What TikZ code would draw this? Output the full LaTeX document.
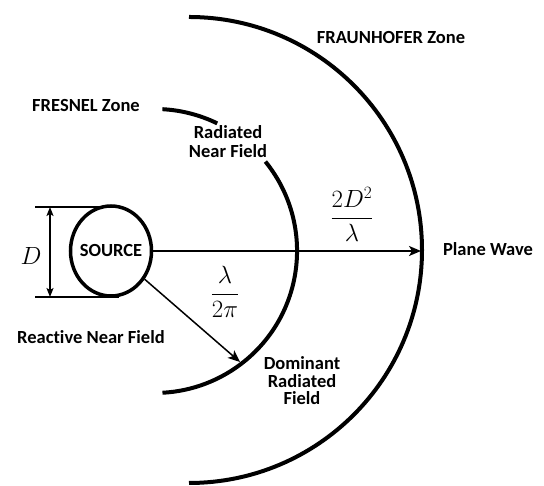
\documentclass[tikz,border=0pt]{standalone}
\usepackage[no-math]{fontspec}
\setmainfont{Carlito}[Ligatures={NoCommon}]
\usetikzlibrary{shapes.geometric,arrows.meta}
\begin{document}
\begin{tikzpicture}[x=1pt,y=1pt,
  lbl/.style={font=\fontsize{18.5}{19}\selectfont\bfseries, align=center, inner sep=0pt},
  mth/.style={font=\fontsize{25}{28}\selectfont, inner sep=0pt},
  arcline/.style={line width=4pt},
  arr/.style={line width=1.5pt, -{Stealth[length=12pt,width=10pt,inset=3pt]}},
  dim/.style={line width=1.3pt},
  dimarr/.style={line width=1.4pt, {Stealth[length=9pt,width=7pt,inset=2pt]}-{Stealth[length=9pt,width=7pt,inset=2pt]}}]
\useasboundingbox (0,0) rectangle (544,486);
% source
\node[ellipse, draw, line width=3.5pt, minimum width=81pt, minimum height=90pt, inner xsep=-6pt, inner ysep=0pt,
      font=\fontsize{18.5}{19}\selectfont\bfseries] (src) at (111,235) {SOURCE};
% outer semicircle (Fraunhofer boundary)
\draw[arcline] (189,469) arc[start angle=90, end angle=-90, radius=233];
\coordinate (outer) at (421,235);
% inner arc (Fresnel boundary), broken behind its label
\draw[arcline] (162.4,376.8) arc[start angle=87, end angle=64, radius=142];
\draw[arcline] (265.4,324.4) arc[start angle=39, end angle=-87, radius=142];
\coordinate (inner) at (240,124);
% arrows
\draw[arr] (src.east) -- (outer);
\draw[arr] (src.-40) -- (inner);
% dimension D
\coordinate (dt0) at (35,279);
\coordinate (dt1) at (119,279);
\coordinate (db0) at (35,189);
\coordinate (db1) at (119,189);
\coordinate (da) at (50,279);
\coordinate (dbb) at (50,189);
\draw[dim] (dt0) -- (dt1);
\draw[dim] (db0) -- (db1);
\draw[dimarr] (da) -- (dbb);
\node[mth] (dlab) at (31,230) {$D$};
% formulas
\node[mth] (f1) at (225,194) {$\displaystyle\frac{\lambda}{2\pi}$};
\node[mth] (f2) at (352,272) {$\displaystyle\frac{2D^2}{\lambda}$};
% labels
\node[lbl] (fraun) at (391,448) {FRAUNHOFER Zone};
\node[lbl] (fres) at (86,380) {FRESNEL Zone};
\node[lbl] (rnf) at (228,344) {Radiated\\Near Field};
\node[lbl] (pw) at (488,237) {Plane Wave};
\node[lbl] (react) at (91,149) {Reactive Near Field};
\node[lbl, font=\fontsize{18.5}{17.5}\selectfont\bfseries] (dom) at (302,105) {Dominant\\Radiated\\Field};
\end{tikzpicture}
\end{document}
